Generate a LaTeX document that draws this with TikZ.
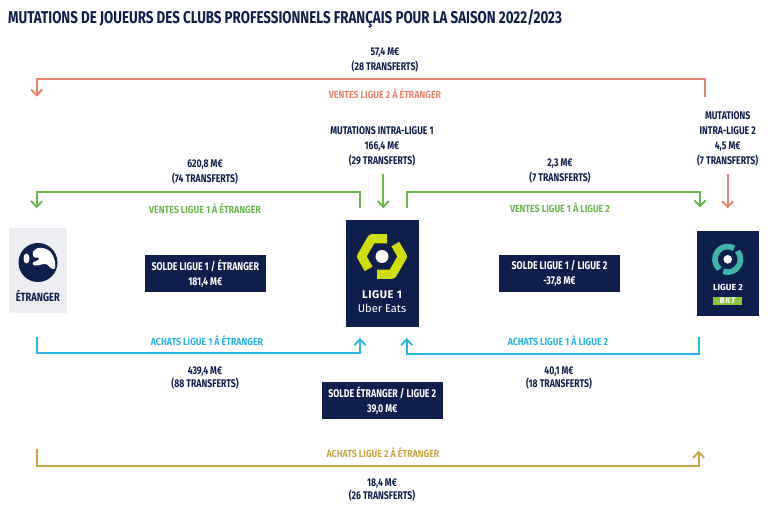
\documentclass[tikz,border=0pt]{standalone}
\usepackage{fontspec}
\setmainfont{Fira Sans}
\newfontfamily\condfont{Fira Sans}[FakeStretch=0.78]
\newfontfamily\labelfont{Fira Sans}[FakeStretch=0.85]
\usepackage{xcolor}
\usepackage{tikz}
\usetikzlibrary{positioning,arrows.meta}

\definecolor{navy}{HTML}{0E1F4B}
\definecolor{salmon}{HTML}{E9846C}
\definecolor{leaf}{HTML}{6BB84F}
\definecolor{sky}{HTML}{2AB4E6}
\definecolor{ochre}{HTML}{C9A64A}
\definecolor{mist}{HTML}{ECEEF4}
\definecolor{lime}{HTML}{CFDD0A}
\definecolor{teal2}{HTML}{3DB6A8}
\definecolor{bktgreen}{HTML}{8CC43F}

\begin{document}
\begin{tikzpicture}[x=0.03cm,y=-0.03cm,
    amount/.style={text=navy,align=center,inner sep=0pt,font=\condfont\bfseries\fontsize{9.5}{12.8}\selectfont},
    amountlow/.style={amount,font=\condfont\bfseries\fontsize{9.5}{10.5}\selectfont},
    flowlabel/.style={inner sep=0pt,font=\labelfont\bfseries\fontsize{8.8}{9}\selectfont},
    flowarrow/.style={line width=1.6pt,-{Straight Barb[length=5pt,width=9.5pt]}},
    solde/.style={fill=navy,text=white,align=center,inner sep=0pt,minimum width=3.62cm,minimum height=1.1cm,font=\condfont\bfseries\fontsize{9.6}{13}\selectfont}]
    \useasboundingbox (0,0) rectangle (777,515);

    \node[anchor=base west,inner sep=0pt,text=navy,font=\condfont\bfseries\fontsize{14.6}{15}\selectfont] (title) at (8,24) {MUTATIONS DE JOUEURS DES CLUBS PROFESSIONNELS FRANÇAIS POUR LA SAISON 2022/2023};

    \node[fill=mist,minimum width=1.73cm,minimum height=2.54cm,inner sep=0pt] (etranger) at (37.8,270.3) {};
    \node[fill=navy,minimum width=2.2cm,minimum height=3.2cm,inner sep=0pt] (ligue1) at (382.3,273.3) {};
    \node[fill=navy,minimum width=1.86cm,minimum height=2.55cm,inner sep=0pt] (ligue2) at (728,273.2) {};

    \fill[navy] (38,262.5) circle (19.5);
    \begin{scope}[shift={(38,262.5)}]
        \fill[white] (-5,-11) .. controls (-2,-16) and (8,-16) .. (13,-10)
            .. controls (16,-6) and (18,0) .. (17,6)
            .. controls (14,8) and (12,4) .. (9,2)
            .. controls (5,0) and (1,4) .. (-4,3)
            .. controls (-6,2) and (-6,0) .. (-3,-1)
            .. controls (1,-2) and (3,-5) .. (-1,-5)
            .. controls (-4,-4) and (-6,-7) .. (-5,-11);
        \fill[white] (-11.5,-4) ellipse [x radius=3,y radius=5];
    \end{scope}
    \node[text=navy,font=\condfont\bfseries\fontsize{10.2}{10}\selectfont] (etrangertxt) at (37.8,296) {ÉTRANGER};

    \begin{scope}[shift={(382,256.5)}]
        \draw[lime,line width=7.7pt,line join=round] (5,-17.75) -- (-10.25,-17.75) -- (-20.5,0) -- (-13.3,12.4);
        \draw[lime,line width=7.7pt,line join=round] (-5,17.75) -- (10.25,17.75) -- (20.5,0) -- (13.3,-12.4);
        \fill[white] (0,0) circle (6.5);
    \end{scope}
    \node[text=white,font=\bfseries\addfontfeature{LetterSpace=5}\fontsize{9.5}{10}\selectfont] (ligue1txt) at (382,295) {LIGUE 1};
    \node[text=white,font=\fontsize{9.5}{10}\selectfont] (ubertxt) at (382,308.3) {Uber Eats};

    \begin{scope}[shift={(727.7,259.3)}]
        \draw[teal2,line width=4.85pt] (130:12.8) arc[start angle=130,end angle=300,radius=12.8];
        \draw[teal2,line width=4.85pt] (320:12.8) arc[start angle=320,end angle=470,radius=12.8];
        \fill[white] (0,0) circle (4.3);
    \end{scope}
    \node[text=white,font=\bfseries\fontsize{7.5}{8}\selectfont] (ligue2txt) at (728,287.7) {LIGUE 2};
    \node[fill=bktgreen,text=white,inner sep=0pt,minimum width=0.87cm,minimum height=0.22cm,font=\bfseries\itshape\addfontfeature{LetterSpace=8}\fontsize{7}{7}\selectfont] (bkt) at (727.5,301) {BKT};

    \node[solde] (soldeetr) at (205.3,273.3) {SOLDE LIGUE 1 / ÉTRANGER\\181,4 M€};
    \node[solde] (soldel2) at (559.5,273.3) {SOLDE LIGUE 1 / LIGUE 2\\-37,8 M€};
    \node[solde] (soldeetrl2) at (382.3,400.5) {SOLDE ÉTRANGER / LIGUE 2\\39,0 M€};

    \coordinate (l2out) at (705,97);
    \coordinate (etrin) at (36.7,96.7);
    \draw[flowarrow,salmon] (l2out) -- ++(0,-17.7) -| (etrin);
    \node[amount] (v2eamt) at (385,60.5) {57,4 M€\\(28 TRANSFERTS)};
    \node[flowlabel,text=salmon] (v2elab) at (385,94) {VENTES LIGUE 2 À ÉTRANGER};

    \node[amount] (mil1) at (382,146.7) {MUTATIONS INTRA-LIGUE 1\\166,4 M€\\(29 TRANSFERTS)};
    \coordinate (l1mid) at (383.3,208.3);
    \draw[flowarrow,leaf,shorten <=6pt] (mil1.south -| l1mid) -- (l1mid);

    \node[amount] (mil2) at (727.7,139.3) {MUTATIONS\\INTRA-LIGUE 2\\4,5 M€\\(7 TRANSFERTS)};
    \coordinate (l2side) at (727.7,208.3);
    \draw[flowarrow,salmon,shorten <=6pt] (mil2.south -| l2side) -- (l2side);

    \coordinate (l1left) at (360,208.3);
    \coordinate (etrtop) at (36.7,208.3);
    \draw[flowarrow,leaf] (l1left) -- ++(0,-16.6) -| (etrtop);
    \node[amount] (v1eamt) at (205,172) {620,8 M€\\(74 TRANSFERTS)};
    \node[flowlabel,text=leaf] (v1elab) at (205,208.3) {VENTES LIGUE 1 À ÉTRANGER};

    \coordinate (l1right) at (406.7,208);
    \coordinate (l2top) at (700,207.5);
    \draw[flowarrow,leaf] (l1right) -- ++(0,-16.3) -| (l2top);
    \node[amount] (v12amt) at (560,171.3) {2,3 M€\\(7 TRANSFERTS)};
    \node[flowlabel,text=leaf] (v12lab) at (560,207.3) {VENTES LIGUE 1 À LIGUE 2};

    \coordinate (etrbot) at (36.7,336.7);
    \coordinate (l1botleft) at (360,338);
    \draw[flowarrow,sky] (etrbot) -- ++(0,16.6) -| (l1botleft);
    \node[flowlabel,text=sky] (a1elab) at (207,340.7) {ACHATS LIGUE 1 À ÉTRANGER};
    \node[amountlow] (a1eamt) at (205,378) {439,4 M€\\(88 TRANSFERTS)};

    \coordinate (l2bot) at (699.3,337);
    \coordinate (l1botright) at (406.7,338);
    \draw[flowarrow,sky] (l2bot) -- ++(0,17) -| (l1botright);
    \node[flowlabel,text=sky] (a12lab) at (558,340.7) {ACHATS LIGUE 1 À LIGUE 2};
    \node[amountlow] (a12amt) at (559,378) {40,1 M€\\(18 TRANSFERTS)};

    \coordinate (etrlow) at (36.7,449.3);
    \coordinate (l2low) at (698.7,450.7);
    \draw[flowarrow,ochre] (etrlow) -- ++(0,16.4) -| (l2low);
    \node[flowlabel,text=ochre] (a2elab) at (383,452.3) {ACHATS LIGUE 2 À ÉTRANGER};
    \node[amountlow] (a2eamt) at (382,490) {18,4 M€\\(26 TRANSFERTS)};
\end{tikzpicture}
\end{document}
